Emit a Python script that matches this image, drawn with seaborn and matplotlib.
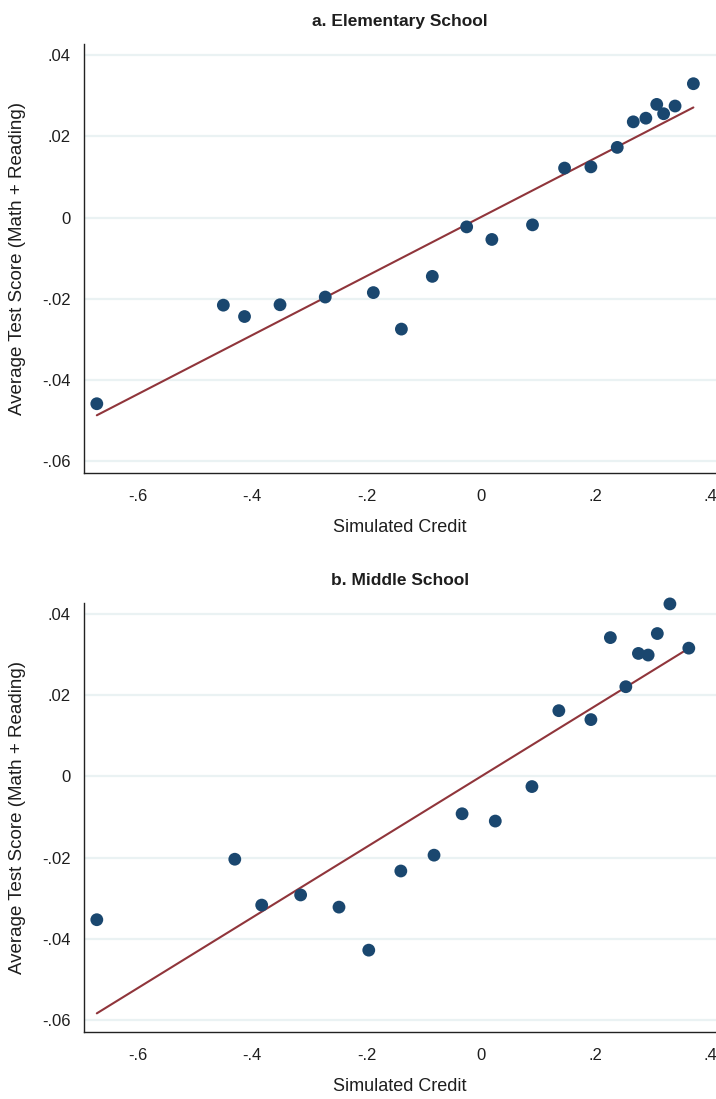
import numpy as np
import pandas as pd
import matplotlib
matplotlib.use("Agg")
import matplotlib.pyplot as plt
import seaborn as sns

# ---- data ----
elem_credit = [-0.671, -0.450, -0.413, -0.351, -0.272, -0.188, -0.139, -0.085, -0.025, 0.019,
               0.090, 0.146, 0.192, 0.238, 0.266, 0.288, 0.307, 0.319, 0.339, 0.371]
elem_score = [-0.0459, -0.0216, -0.0244, -0.0215, -0.0196, -0.0185, -0.0275, -0.0145, -0.0023, -0.0054,
              -0.0018, 0.0122, 0.0125, 0.0173, 0.0236, 0.0245, 0.0279, 0.0256, 0.0275, 0.0330]

mid_credit = [-0.671, -0.430, -0.383, -0.315, -0.248, -0.196, -0.140, -0.082, -0.033, 0.025,
              0.089, 0.136, 0.192, 0.226, 0.253, 0.275, 0.292, 0.308, 0.330, 0.363]
mid_score = [-0.0353, -0.0204, -0.0317, -0.0292, -0.0322, -0.0428, -0.0233, -0.0194, -0.0092, -0.0110,
             -0.0025, 0.0162, 0.0140, 0.0342, 0.0221, 0.0303, 0.0299, 0.0352, 0.0425, 0.0316]

panel_titles = ["a. Elementary School", "b. Middle School"]
x_ticks = [-0.6, -0.4, -0.2, 0, 0.2, 0.4]
x_ticklabels = ["-.6", "-.4", "-.2", "0", ".2", ".4"]
y_ticks = [-0.06, -0.04, -0.02, 0, 0.02, 0.04]
y_ticklabels = ["-.06", "-.04", "-.02", "0", ".02", ".04"]
x_label = "Simulated Credit"
y_label = "Average Test Score (Math + Reading)"

sns.set_style("white")
plt.rcParams["font.family"] = ["Liberation Sans", "DejaVu Sans"]

navy = "#1a476f"
maroon = "#90353b"
grid_c = "#eaf2f3"
txt = "#1e1e1e"

fig = plt.figure(figsize=(7.16, 10.99), dpi=100)
ax_top = fig.add_axes([0.1173, 0.5699, 0.8827, 0.3901])
ax_bot = fig.add_axes([0.1173, 0.0612, 0.8827, 0.3904])

panels = [
    (ax_top, pd.DataFrame({"credit": elem_credit, "score": elem_score}), panel_titles[0]),
    (ax_bot, pd.DataFrame({"credit": mid_credit, "score": mid_score}), panel_titles[1]),
]

for ax, df, title in panels:
    ax.set_axisbelow(True)
    for yt in y_ticks:
        ax.axhline(yt, color=grid_c, lw=1.6, zorder=0)
    sns.regplot(data=df, x="credit", y="score", ax=ax, ci=None, truncate=True,
                scatter_kws=dict(s=85, color=navy, edgecolor="none", alpha=1, zorder=3,
                                 clip_on=False),
                line_kws=dict(color=maroon, lw=1.5, zorder=2))
    ax.set_xlim(-0.6934, 0.4105)
    ax.set_ylim(-0.0629, 0.0428)
    ax.set_xticks(x_ticks)
    ax.set_xticklabels(x_ticklabels)
    ax.set_yticks(y_ticks)
    ax.set_yticklabels(y_ticklabels)
    ax.tick_params(axis="both", direction="out", length=5.5, width=0.9, color="#555555",
                   labelsize=12, labelcolor=txt)
    ax.tick_params(axis="x", pad=6)
    ax.tick_params(axis="y", pad=4)
    for s in ["top", "right"]:
        ax.spines[s].set_visible(False)
    for s in ["left", "bottom"]:
        ax.spines[s].set_color("#222222")
        ax.spines[s].set_linewidth(1.0)
    ax.set_xlabel(x_label, fontsize=13, color=txt, labelpad=11)
    ax.set_ylabel(y_label, fontsize=13.5, color=txt, labelpad=12)
    ax.set_title(title, fontsize=12.5, fontweight="bold", color=txt, pad=13)

fig.savefig("out.png", dpi=100)
